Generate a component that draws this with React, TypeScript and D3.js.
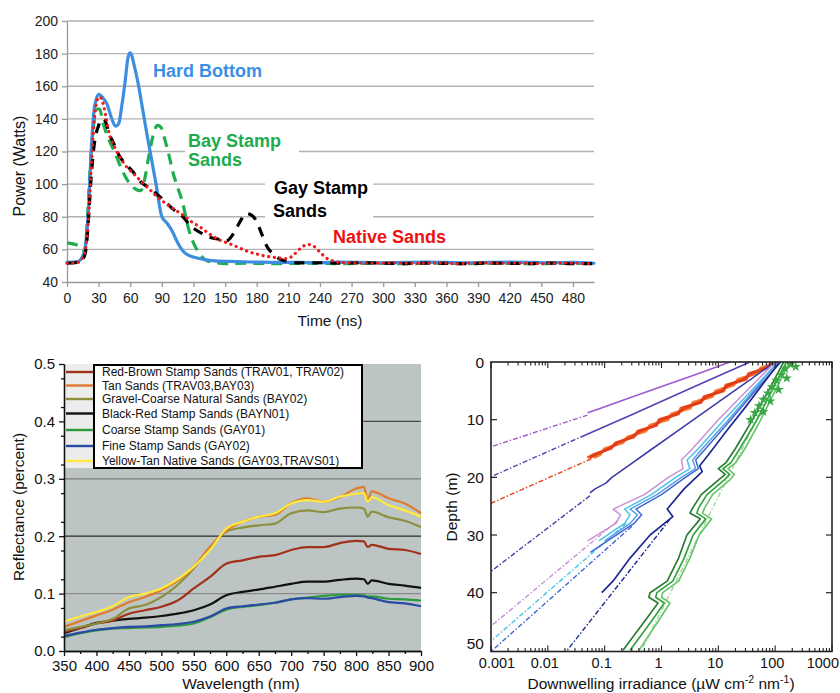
import { useEffect, useRef } from 'react';
import * as d3 from 'd3';

const FONT = '"Liberation Sans", Arial, Helvetica, sans-serif';

// ---------- top panel: return power vs time ----------
const timeTicks = [0, 30, 60, 90, 120, 150, 180, 210, 240, 270, 300, 330, 360, 390, 420, 450, 480];
const powerTicks = [40, 60, 80, 100, 120, 140, 160, 180, 200];

const hardT = [0, 10, 15, 18, 20, 23, 26, 30, 34, 38, 42, 46, 49, 52, 55, 58, 60, 64, 68, 72, 76, 80, 85, 90, 95, 100, 105, 110, 115, 120, 130, 140, 160, 180, 200, 220, 240, 260, 280, 300, 320, 340, 360, 380, 400, 420, 440, 460, 480, 500];
const hardW = [52, 52.5, 56, 65, 80, 121, 147, 155, 153, 149, 141, 135.5, 137, 148, 162, 178, 180.5, 172, 160, 145, 130, 116, 98, 80, 76, 71, 64, 59, 56.5, 55.3, 53.8, 53, 52.5, 52.2, 52, 52, 51.8, 52.2, 52, 51.8, 52, 52.2, 52, 51.8, 52, 52.2, 52, 51.8, 52, 51.5];

const bayT = [0, 8, 14, 17, 19, 22, 25, 28, 31, 34, 38, 42, 45, 50, 55, 60, 65, 70, 74, 77, 80, 83, 86, 89, 93, 97, 101, 105, 110, 114, 117, 120, 124, 128, 132, 140, 150, 170, 200, 230, 260, 290, 320, 350, 380, 410, 440, 470, 500];
const bayW = [64, 63, 61, 59, 75, 110, 135, 146, 146, 138, 130, 124, 120, 112, 105, 100, 97, 96, 104, 115, 125, 133, 136, 135, 127, 117, 106, 98, 88, 76, 69, 64, 59, 55.5, 53.3, 52, 51.3, 51.5, 51.3, 51.5, 51.3, 51.5, 51.2, 51.5, 51.3, 51.5, 51.2, 51.4, 51.3];

const gayT = [0, 10, 15, 18, 20, 23, 26, 30, 33, 36, 40, 45, 50, 55, 62, 69, 77, 85, 92, 100, 110, 118, 126, 135, 145, 151, 155, 160, 165, 170, 175, 180, 185, 190, 196, 202, 210, 221, 240, 260, 280, 300, 320, 340, 360, 380, 400, 420, 440, 460, 480, 500];
const gayW = [51.5, 52, 54, 60, 75, 105, 125, 136, 140, 139, 131, 124, 117, 112.6, 108, 102, 98, 94, 90, 85, 80, 74, 70.5, 67.5, 66, 65, 67, 72, 78, 82, 81, 77, 69, 61.5, 57, 54, 52.5, 51.7, 51.8, 51.5, 51.8, 51.5, 51.3, 51.6, 51.4, 51.2, 51.6, 51.4, 51.3, 51.6, 51.2, 51.3];

const nativeT = [0, 10, 15, 18, 20, 23, 26, 29, 31, 34, 37, 40, 45, 50, 56, 63, 70, 78, 86, 94, 102, 110, 118, 126, 134, 142, 150, 158, 165, 173, 181, 189, 198, 208, 213, 218, 223, 229, 234, 240, 246, 252, 260, 270, 290, 310, 330, 350, 370, 390, 410, 430, 450, 470, 490, 500];
const nativeW = [51.5, 52, 55, 62, 75, 110, 140, 152, 153.5, 150, 141, 131, 123, 116.7, 111, 106.5, 102, 97, 92, 88, 84.5, 81, 77, 73.8, 70, 66.6, 64.5, 62.5, 60.5, 58.4, 57, 55.8, 55, 54.3, 55.5, 58.4, 61.5, 63, 62, 58.4, 54.7, 53, 52, 51.8, 51.5, 51.8, 51.4, 51.7, 51.3, 51.8, 51.5, 51.6, 51.3, 51.7, 51.4, 51.3];

// ---------- bottom-left panel: reflectance spectra ----------
const wavelengths = [350, 375, 400, 425, 450, 475, 500, 525, 550, 575, 600, 625, 650, 675, 700, 725, 750, 775, 800, 812, 818, 824, 850, 875, 900];
const redBrown = [0.033, 0.040, 0.048, 0.053, 0.065, 0.071, 0.077, 0.088, 0.109, 0.129, 0.152, 0.158, 0.164, 0.167, 0.176, 0.181, 0.181, 0.188, 0.192, 0.191, 0.181, 0.185, 0.178, 0.176, 0.169];
const tanSands = [0.042, 0.052, 0.062, 0.072, 0.085, 0.094, 0.106, 0.122, 0.147, 0.181, 0.210, 0.225, 0.234, 0.237, 0.258, 0.266, 0.260, 0.268, 0.283, 0.286, 0.262, 0.278, 0.266, 0.257, 0.240];
const gravel = [0.036, 0.042, 0.048, 0.056, 0.074, 0.080, 0.094, 0.115, 0.144, 0.181, 0.208, 0.215, 0.219, 0.222, 0.240, 0.245, 0.242, 0.248, 0.250, 0.248, 0.234, 0.243, 0.233, 0.227, 0.216];
const blackRed = [0.031, 0.040, 0.049, 0.053, 0.056, 0.058, 0.061, 0.065, 0.071, 0.081, 0.097, 0.103, 0.107, 0.112, 0.117, 0.121, 0.121, 0.124, 0.126, 0.125, 0.117, 0.123, 0.117, 0.114, 0.110];
const coarse = [0.024, 0.031, 0.036, 0.039, 0.040, 0.041, 0.042, 0.044, 0.048, 0.059, 0.072, 0.077, 0.080, 0.084, 0.090, 0.093, 0.096, 0.098, 0.098, 0.097, 0.095, 0.095, 0.091, 0.090, 0.088];
const fine = [0.026, 0.032, 0.037, 0.040, 0.042, 0.043, 0.045, 0.047, 0.051, 0.060, 0.074, 0.078, 0.081, 0.084, 0.090, 0.092, 0.091, 0.094, 0.096, 0.095, 0.093, 0.092, 0.085, 0.083, 0.078];
const yellowTan = [0.051, 0.060, 0.068, 0.078, 0.094, 0.100, 0.109, 0.125, 0.147, 0.176, 0.213, 0.225, 0.234, 0.240, 0.257, 0.263, 0.260, 0.269, 0.274, 0.275, 0.260, 0.268, 0.254, 0.245, 0.234];
const sandNames = [
  'Red-Brown Stamp Sands (TRAV01, TRAV02)',
  'Tan Sands (TRAV03,BAY03)',
  'Gravel-Coarse Natural Sands (BAY02)',
  'Black-Red Stamp Sands (BAYN01)',
  'Coarse Stamp Sands (GAY01)',
  'Fine Stamp Sands (GAY02)',
  'Yellow-Tan Native Sands (GAY03,TRAVS01)',
];
const sandColors = ['#a3301c', '#e07a2c', '#8c8f3c', '#111111', '#2e9a3e', '#2a4aa6', '#ffea3c'];
const sandSeries = [redBrown, tanSands, gravel, blackRed, coarse, fine, yellowTan];
const wlTicks = [350, 400, 450, 500, 550, 600, 650, 700, 750, 800, 850, 900];
const reflTicks = [0, 0.1, 0.2, 0.3, 0.4, 0.5];

// ---------- bottom-right panel: irradiance profiles ----------
const irrTicks = [0.001, 0.01, 0.1, 1, 10, 100, 1000];
const depthTicks = [0, 10, 20, 30, 40, 50];

const violetDepth = [0, 2, 4, 6, 8, 8.8];
const violetIrr = [16, 4.5, 1.2, 0.32, 0.085, 0.05];
const indigoDepth = [0, 3, 6, 9, 12.7];
const indigoIrr = [36, 7.4, 1.55, 0.32, 0.045];
const redDepth = [0, 1, 2, 3, 4, 5, 6, 7, 8, 9, 10, 11, 12, 13, 14, 15, 16, 16.6];
const redIrr = [100, 70, 38, 28, 15, 11.5, 6.2, 4.6, 2.5, 1.85, 1.0, 0.76, 0.42, 0.30, 0.17, 0.12, 0.07, 0.055];
const orangeIrr = [120, 56, 47, 22, 18.5, 9.0, 7.8, 3.6, 3.2, 1.5, 1.3, 0.62, 0.53, 0.25, 0.21, 0.1, 0.085, 0.065];
const redOrangeIrr = [90, 75, 34, 31, 13.5, 12.5, 5.6, 5.0, 2.2, 2.0, 0.9, 0.82, 0.38, 0.33, 0.155, 0.13, 0.065, 0.05];
const slateDepth = [0, 3, 6, 9, 12, 15, 18, 20, 21, 22, 22.7];
const slateIrr = [100, 37, 13.7, 5.1, 1.9, 0.70, 0.26, 0.134, 0.105, 0.068, 0.055];
const groupDepth = [0, 5, 10, 15, 17, 18.5, 20, 23, 25.5, 26.5, 28, 31];
const pinkIrr = [100, 31.6, 10, 3.55, 2.24, 2.4, 1.32, 0.5, 0.141, 0.19, 0.158, 0.05];
const cyanIrr = [112, 38, 12.6, 4.47, 2.82, 3.16, 1.78, 0.66, 0.224, 0.28, 0.224, 0.079];
const skyIrr = [112, 41.7, 15.1, 5.25, 3.55, 3.98, 2.24, 0.83, 0.28, 0.38, 0.28, 0.1];
const gblueDepth = [0, 5, 10, 15, 17, 18.5, 20, 23, 25.5, 26.5, 28, 31, 33];
const gblueIrr = [126, 44.7, 16.6, 6.0, 4.0, 4.47, 2.63, 1.0, 0.355, 0.447, 0.33, 0.112, 0.056];
const navyDepth = [0, 4, 8, 12, 16, 18, 19, 22, 25.5, 26.8, 30, 34, 38, 40];
const navyIrr = [120, 59, 29, 13.8, 6.8, 4.7, 5.2, 2.5, 1.26, 1.58, 0.63, 0.28, 0.14, 0.089];
const greenDepth = [0, 5, 10, 15, 17.5, 18.5, 19.5, 20.5, 23, 25.3, 26.2, 27.2, 30, 34, 38, 40, 40.8, 41.8, 45, 50];
const darkGreenIrr = [141, 76, 40, 20, 13.5, 10, 13.2, 10, 5.0, 3.55, 3.16, 4.8, 2.8, 2.0, 1.26, 0.63, 0.6, 0.87, 0.5, 0.21];
const greenIrr = [158, 87, 48, 24, 16.6, 12, 15.8, 12.6, 6.3, 4.5, 4.2, 6.0, 3.6, 2.5, 1.58, 0.83, 0.79, 1.12, 0.66, 0.28];
const lightGreenIrr = [178, 100, 56, 29.5, 20, 14.8, 19, 15.8, 7.9, 5.75, 5.25, 7.6, 4.6, 3.16, 2.0, 1.05, 1.0, 1.41, 0.87, 0.4];
const greenStarDepth = [0.4, 1.2, 2.2, 3.2, 4.3, 5.4, 6.5, 7.6, 8.8, 10, 0.8, 2.8, 4.8, 6.8, 8.6];
const greenStarIrr = [185, 150, 128, 105, 88, 74, 62, 52, 44, 37, 230, 160, 115, 82, 62];

// extrapolated (dash-dot) segments: [depth0, depth1], [irr0, irr1]
const extrapDepth = [[9.2, 14.7], [12.7, 19.9], [16.8, 24.5], [23.2, 36.3], [27.5, 45.8], [28, 48.4], [28.5, 50.2], [27.3, 50.5], [8, 50.5]];
const extrapIrr = [[0.05, 0.001], [0.045, 0.001], [0.058, 0.001], [0.055, 0.001], [0.17, 0.001], [0.24, 0.001], [0.3, 0.001], [1.4, 0.02], [60, 0.42]];
const extrapColors = ['#a05ad0', '#5b3fb5', '#e8401a', '#3c3ca8', '#c890d8', '#48c4e8', '#4068d0', '#1e2a90', '#9ed89e'];

function styleAxis(a: any, color: string, size: number, textColor = '#222') {
  a.attr('font-family', FONT).attr('font-size', size);
  a.select('.domain').attr('stroke', color).attr('stroke-width', 1.3);
  a.selectAll('.tick line').attr('stroke', color).attr('stroke-width', 1.3);
  a.selectAll('.tick text').attr('fill', textColor);
}

function drawPower(svg: any) {
  const g = svg.append('g');
  const x = d3.scaleLinear().domain([0, 500]).range([67, 594]);
  const y = d3.scaleLinear().domain([40, 200]).range([282, 21]);

  g.selectAll('.pgrid').data(powerTicks.slice(1)).join('line')
    .attr('x1', x(0)).attr('x2', x(500))
    .attr('y1', (d: number) => y(d)).attr('y2', (d: number) => y(d))
    .attr('stroke', '#b2b2b2').attr('stroke-width', 1.3);

  // white backdrops behind the stamp-sand labels
  g.append('rect').attr('x', 185).attr('y', 130).attr('width', 114).attr('height', 40).attr('fill', '#fff');
  g.append('rect').attr('x', 265).attr('y', 176).attr('width', 108).attr('height', 45).attr('fill', '#fff');

  const ya = g.append('g').attr('transform', `translate(${x(0)},0)`)
    .call(d3.axisLeft(y).tickValues(powerTicks).tickSize(5).tickSizeOuter(0).tickPadding(4));
  styleAxis(ya, '#9a9a9a', 14);
  const xa = g.append('g').attr('transform', `translate(0,${y(40)})`)
    .call(d3.axisBottom(x).tickValues(timeTicks).tickSize(5).tickSizeOuter(0).tickPadding(6));
  styleAxis(xa, '#9a9a9a', 14);

  const line = d3.line<[number, number]>().x(d => x(d[0])).y(d => y(d[1])).curve(d3.curveMonotoneX);
  const series = [
    { t: bayT, w: bayW, color: '#1fae4f', dash: '11 7', cap: 'butt' },
    { t: hardT, w: hardW, color: '#3d8ee0', dash: null, cap: 'round' },
    { t: gayT, w: gayW, color: '#000', dash: '10 8', cap: 'butt' },
    { t: nativeT, w: nativeW, color: '#ee1c1c', dash: '0.1 5.6', cap: 'round' },
  ];
  series.forEach(s => {
    g.append('path').attr('d', line(d3.zip(s.t, s.w) as [number, number][]))
      .attr('fill', 'none').attr('stroke', s.color).attr('stroke-width', 3.2)
      .attr('stroke-dasharray', s.dash).attr('stroke-linecap', s.cap).attr('stroke-linejoin', 'round');
  });

  const lab = (txt: string, lx: number, ly: number, c: string) =>
    g.append('text').attr('x', lx).attr('y', ly).text(txt).attr('fill', c)
      .attr('font-family', FONT).attr('font-size', 18).attr('font-weight', 'bold');
  lab('Hard Bottom', 153, 77, '#3b8fe3');
  lab('Bay Stamp', 188, 147, '#1cac4e');
  lab('Sands', 188, 166, '#1cac4e');
  lab('Gay Stamp', 274, 194, '#000');
  lab('Sands', 273, 217, '#000');
  lab('Native Sands', 333, 243, '#ee1111');

  g.append('text').attr('x', 330).attr('y', 326).attr('text-anchor', 'middle')
    .attr('font-family', FONT).attr('font-size', 15.5).attr('fill', '#111').text('Time (ns)');
  g.append('text').attr('transform', 'translate(25,166) rotate(-90)').attr('text-anchor', 'middle')
    .attr('font-family', FONT).attr('font-size', 16).attr('fill', '#111').text('Power (Watts)');
}

function drawReflectance(svg: any) {
  const g = svg.append('g');
  const x = d3.scaleLinear().domain([350, 900]).range([64, 421]);
  const y = d3.scaleLinear().domain([0, 0.5]).range([651, 364]);

  g.append('rect').attr('x', x(350)).attr('y', y(0.5)).attr('width', x(900) - x(350)).attr('height', y(0) - y(0.5)).attr('fill', '#bcc5c3');
  const gridColors = ['#8a8a8a', '#2a2a2a', '#7a7a7a', '#4a4a4a'];
  g.selectAll('.rgrid').data([0.1, 0.2, 0.3, 0.4]).join('line')
    .attr('x1', x(350)).attr('x2', x(900)).attr('y1', (d: number) => y(d)).attr('y2', (d: number) => y(d))
    .attr('stroke', (_d: number, i: number) => gridColors[i]).attr('stroke-width', 1.3);

  const line = d3.line<[number, number]>().x(d => x(d[0])).y(d => y(d[1])).curve(d3.curveMonotoneX);
  const order = [4, 5, 3, 0, 2, 1, 6];
  order.forEach(i => {
    g.append('path').attr('d', line(d3.zip(wavelengths, sandSeries[i]) as [number, number][]))
      .attr('fill', 'none').attr('stroke', sandColors[i]).attr('stroke-width', 2.2).attr('stroke-linejoin', 'round');
  });

  // legend
  g.append('rect').attr('x', x(350)).attr('y', y(0.5)).attr('width', 30).attr('height', 104).attr('fill', '#ececec');
  g.append('rect').attr('x', 94).attr('y', 365).attr('width', 268).attr('height', 103)
    .attr('fill', '#fff').attr('stroke', '#000').attr('stroke-width', 2);
  const rows = [372, 385.5, 399, 413.5, 430, 446, 461];
  sandNames.forEach((nm, i) => {
    g.append('line').attr('x1', 66).attr('x2', 93).attr('y1', rows[i]).attr('y2', rows[i])
      .attr('stroke', sandColors[i]).attr('stroke-width', 2.4);
    g.append('text').attr('x', 102).attr('y', rows[i]).attr('dy', '0.36em').text(nm)
      .attr('font-family', FONT).attr('font-size', 12).attr('fill', '#111');
  });

  const ya = g.append('g').attr('transform', `translate(${x(350)},0)`)
    .call(d3.axisLeft(y).tickValues(reflTicks).tickFormat(d3.format('.1f')).tickSize(5).tickSizeOuter(0).tickPadding(4));
  styleAxis(ya, '#111', 15, '#111');
  const yMinor = g.append('g').attr('transform', `translate(${x(350)},0)`)
    .call(d3.axisLeft(y).tickValues(d3.range(0.025, 0.5, 0.05)).tickFormat(() => '').tickSize(3).tickSizeOuter(0));
  styleAxis(yMinor, '#111', 10);
  const xa = g.append('g').attr('transform', `translate(0,${y(0)})`)
    .call(d3.axisBottom(x).tickValues(wlTicks).tickSize(5).tickSizeOuter(0).tickPadding(4));
  styleAxis(xa, '#111', 15, '#111');
  const xMinor = g.append('g').attr('transform', `translate(0,${y(0)})`)
    .call(d3.axisBottom(x).tickValues(d3.range(375, 900, 50)).tickFormat(() => '').tickSize(3).tickSizeOuter(0));
  styleAxis(xMinor, '#111', 10);

  g.append('text').attr('x', 241).attr('y', 689).attr('text-anchor', 'middle')
    .attr('font-family', FONT).attr('font-size', 15.5).attr('fill', '#111').text('Wavelength (nm)');
  g.append('text').attr('transform', 'translate(24,507) rotate(-90)').attr('text-anchor', 'middle')
    .attr('font-family', FONT).attr('font-size', 15.5).attr('fill', '#111').text('Reflectance (percent)');
}

function drawIrradiance(svg: any) {
  const g = svg.append('g');
  const x = d3.scaleLog().domain([0.001, 1000]).range([491, 832]);
  const y = d3.scaleLinear().domain([0, 50.2]).range([362, 651.5]);

  svg.append('defs').append('clipPath').attr('id', 'irrClip').append('rect')
    .attr('x', 491).attr('y', 362).attr('width', 341).attr('height', 289.5);
  const plot = g.append('g').attr('clip-path', 'url(#irrClip)');
  const line = d3.line<[number, number]>().x(d => x(d[0])).y(d => y(d[1]));

  // extrapolations first
  extrapDepth.forEach((dd, i) => {
    plot.append('path').attr('d', line(d3.zip(extrapIrr[i], dd) as [number, number][]))
      .attr('fill', 'none').attr('stroke', extrapColors[i]).attr('stroke-width', 1.4)
      .attr('stroke-dasharray', '5 2 1.5 2');
  });

  const measured = [
    { d: violetDepth, e: violetIrr, c: '#a05ad0', w: 1.6 },
    { d: indigoDepth, e: indigoIrr, c: '#5b3fb5', w: 1.6 },
    { d: redDepth, e: orangeIrr, c: '#f47a30', w: 2.8 },
    { d: redDepth, e: redOrangeIrr, c: '#ee5a24', w: 2.8 },
    { d: redDepth, e: redIrr, c: '#e23c18', w: 2.8 },
    { d: slateDepth, e: slateIrr, c: '#3c3ca8', w: 1.6 },
    { d: groupDepth, e: pinkIrr, c: '#c890d8', w: 1.5 },
    { d: groupDepth, e: cyanIrr, c: '#48c4e8', w: 1.5 },
    { d: groupDepth, e: skyIrr, c: '#5aa0e6', w: 1.5 },
    { d: gblueDepth, e: gblueIrr, c: '#4068d0', w: 1.5 },
    { d: navyDepth, e: navyIrr, c: '#1e2a90', w: 1.7 },
    { d: greenDepth, e: lightGreenIrr, c: '#6cc46c', w: 1.7 },
    { d: greenDepth, e: greenIrr, c: '#35a440', w: 1.7 },
    { d: greenDepth, e: darkGreenIrr, c: '#2a7d32', w: 1.7 },
  ];
  measured.forEach(m => {
    plot.append('path').attr('d', line(d3.zip(m.e, m.d) as [number, number][]))
      .attr('fill', 'none').attr('stroke', m.c).attr('stroke-width', m.w).attr('stroke-linejoin', 'round');
  });
  const star = d3.symbol().type(d3.symbolStar).size(34);
  plot.selectAll('.gstar').data(d3.zip(greenStarIrr, greenStarDepth)).join('path')
    .attr('d', star).attr('fill', '#3aa845')
    .attr('transform', (p: number[]) => `translate(${x(p[0])},${y(p[1])})`);

  // frame and ticks
  g.append('rect').attr('x', 491).attr('y', 362).attr('width', 341).attr('height', 289.5)
    .attr('fill', 'none').attr('stroke', '#222').attr('stroke-width', 1.6);
  const minor = x.ticks();
  [362, 651.5].forEach((edge, k) => {
    const dir = k === 0 ? 1 : -1;
    g.selectAll(`.mt${k}`).data(minor).join('line')
      .attr('x1', (v: number) => x(v)).attr('x2', (v: number) => x(v))
      .attr('y1', edge).attr('y2', (v: number) => edge + dir * (irrTicks.includes(v) ? 6 : 3.5))
      .attr('stroke', '#222').attr('stroke-width', 1.1);
  });
  [491, 832].forEach((edge, k) => {
    const dir = k === 0 ? 1 : -1;
    g.selectAll(`.dt${k}`).data(depthTicks.slice(1, 5)).join('line')
      .attr('x1', edge).attr('x2', edge + dir * 6)
      .attr('y1', (v: number) => y(v)).attr('y2', (v: number) => y(v))
      .attr('stroke', '#222').attr('stroke-width', 1.2);
  });

  g.selectAll('.dl').data(depthTicks).join('text')
    .attr('x', 484).attr('y', (v: number) => Math.min(y(v), 643)).attr('dy', '0.36em')
    .attr('text-anchor', 'end').attr('font-family', FONT).attr('font-size', 15.5).attr('fill', '#111')
    .text((v: number) => String(v));
  const last = irrTicks.length - 1;
  g.selectAll('.il').data(irrTicks).join('text')
    .attr('x', (v: number, i: number) => (i === last ? 839 : x(v) + (i === 0 ? 6 : -3)))
    .attr('y', 668)
    .attr('text-anchor', (_v: number, i: number) => (i === last ? 'end' : 'middle'))
    .attr('font-family', FONT).attr('font-size', 14.5).attr('fill', '#111')
    .text((v: number) => String(v));

  const t = g.append('text').attr('x', 661).attr('y', 689).attr('text-anchor', 'middle')
    .attr('font-family', FONT).attr('font-size', 15.5).attr('fill', '#111');
  t.append('tspan').text('Downwelling irradiance (\u00b5W cm');
  t.append('tspan').attr('dy', -6).attr('font-size', 10.5).text('-2');
  t.append('tspan').attr('dy', 6).text(' nm');
  t.append('tspan').attr('dy', -6).attr('font-size', 10.5).text('-1');
  t.append('tspan').attr('dy', 6).text(')');
  g.append('text').attr('transform', 'translate(457,507) rotate(-90)').attr('text-anchor', 'middle')
    .attr('font-family', FONT).attr('font-size', 15.5).attr('fill', '#111').text('Depth (m)');
}

export default function App() {
  const svgRef = useRef<SVGSVGElement>(null);
  useEffect(() => {
    const svg = d3.select(svgRef.current);
    svg.selectAll('*').remove();
    drawPower(svg);
    drawReflectance(svg);
    drawIrradiance(svg);
  }, []);
  return (
    <svg ref={svgRef} width={840} height={693}
      style={{ position: 'absolute', left: 0, top: 0, background: '#fff', display: 'block' }} />
  );
}
